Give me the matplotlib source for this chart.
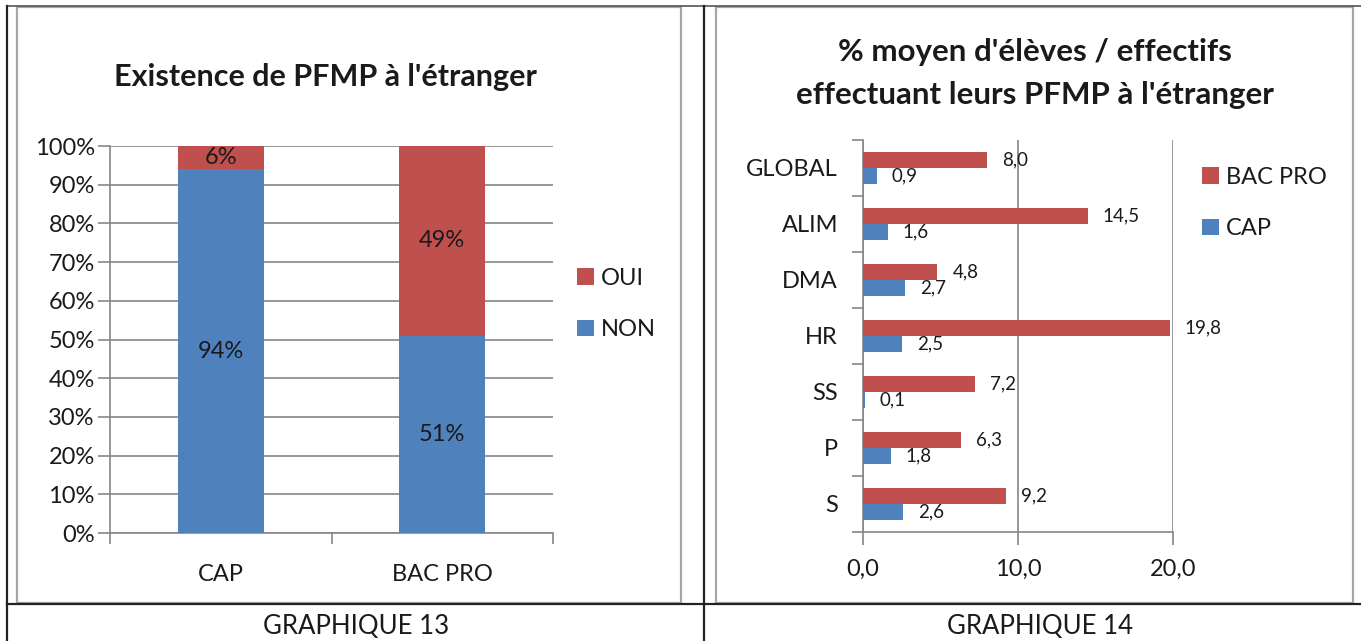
import matplotlib
matplotlib.use("Agg")
import matplotlib.pyplot as plt
from matplotlib.lines import Line2D
from matplotlib.patches import Rectangle
import numpy as np

plt.rcParams['font.family'] = ['Lato', 'DejaVu Sans']

# ---- data ----
g13_categories = ["CAP", "BAC PRO"]
g13_non = [0.94, 0.51]
g13_oui = [0.06, 0.49]
g13_non_labels = ["94%", "51%"]
g13_oui_labels = ["6%", "49%"]
g13_yticks = [i / 10 for i in range(11)]

g14_categories = ["GLOBAL", "ALIM", "DMA", "HR", "SS", "P", "S"]
g14_bacpro = [8.0, 14.5, 4.8, 19.8, 7.2, 6.3, 9.2]
g14_cap = [0.9, 1.6, 2.7, 2.5, 0.1, 1.8, 2.6]
g14_xticks = [0, 10, 20]

RED = "#C0504D"
BLUE = "#4F81BD"
GRID = "#868686"
TXT = "#1a1a1a"

W, H = 1361, 641
fig = plt.figure(figsize=(W / 100, H / 100), dpi=100)


def fx(x):
    return x / W


def fy(y):
    return 1 - y / H


def add_ax(x0, y0, x1, y1):
    return fig.add_axes([fx(x0), fy(y1), fx(x1) - fx(x0), fy(y0) - fy(y1)])


# ---- table / panel borders ----
def fline(x0, y0, x1, y1, color, lw):
    fig.add_artist(Line2D([fx(x0), fx(x1)], [fy(y0), fy(y1)], color=color,
                          lw=lw, transform=fig.transFigure))

for (x0, x1) in [(17, 681), (716, 1353)]:
    fig.add_artist(Rectangle((fx(x0), fy(603)), fx(x1) - fx(x0), fy(7) - fy(603),
                             fill=False, ec="#A6A6A6", lw=1.6, transform=fig.transFigure))
fline(7, 6, 1361, 6, "#555555", 1.2)
fline(7, 6, 7, 641, "#222222", 1.6)
fline(704, 6, 704, 641, "#222222", 1.6)
fline(7, 604, 1361, 604, "#222222", 1.6)

fig.text(fx(356), fy(627), "GRAPHIQUE 13", ha="center", va="center", fontsize=18.5, color=TXT)
fig.text(fx(1040), fy(627), "GRAPHIQUE 14", ha="center", va="center", fontsize=18.5, color=TXT)

# ---- GRAPHIQUE 13 ----
ax1 = add_ax(110, 146, 553, 533)
xpos = np.arange(len(g13_categories)) + 0.5
bw = 0.39
ax1.bar(xpos, g13_non, bw, color=BLUE, label="NON", zorder=3)
ax1.bar(xpos, g13_oui, bw, bottom=g13_non, color=RED, label="OUI", zorder=3)
for x, n, o, nl, ol in zip(xpos, g13_non, g13_oui, g13_non_labels, g13_oui_labels):
    ax1.text(x, n / 2, nl, ha="center", va="center", fontsize=17, color=TXT, zorder=4)
    ax1.text(x, n + o / 2, ol, ha="center", va="center", fontsize=17, color=TXT, zorder=4)
ax1.set_xlim(0, len(g13_categories))
ax1.set_ylim(0, 1)
ax1.set_yticks(g13_yticks)
ax1.set_yticklabels([f"{int(round(t * 100))}%" for t in g13_yticks], fontsize=17, color=TXT)
ax1.set_xticks(xpos)
ax1.set_xticklabels(g13_categories, fontsize=17, color=TXT)
ax1.set_xticks(np.arange(len(g13_categories) + 1), minor=True)
ax1.tick_params(axis="x", which="major", length=0, pad=22)
ax1.tick_params(axis="x", which="minor", length=8, color=GRID, width=1.2, direction="out")
ax1.tick_params(axis="y", length=9, color=GRID, width=1.2, pad=2)
ax1.yaxis.grid(True, color=GRID, lw=1.2, zorder=0)
for s in ["top", "right"]:
    ax1.spines[s].set_visible(False)
for s in ["left", "bottom"]:
    ax1.spines[s].set_color(GRID)
    ax1.spines[s].set_linewidth(1.2)
ax1.set_axisbelow(True)
fig.text(fx(325), fy(77), "Existence de PFMP à l'étranger", ha="center", va="center",
         fontsize=22, fontweight="bold", color=TXT)
h, l = ax1.get_legend_handles_labels()
fig.legend(h[::-1], l[::-1], loc="center left", bbox_to_anchor=(fx(556), fy(304)),
           frameon=False, fontsize=17, handlelength=0.7, handleheight=0.7,
           handletextpad=0.3, labelspacing=1.3, labelcolor=TXT)

# ---- GRAPHIQUE 14 ----
ax2 = add_ax(863, 140, 1173, 532)
ypos = np.arange(len(g14_categories)) + 0.5
bh = 0.286
ax2.barh(ypos - bh / 2, g14_bacpro, bh, color=RED, label="BAC PRO", zorder=3)
ax2.barh(ypos + bh / 2, g14_cap, bh, color=BLUE, label="CAP", zorder=3)
for y, v in zip(ypos - bh / 2, g14_bacpro):
    ax2.annotate(f"{v:.1f}".replace(".", ","), (v, y), xytext=(15, 0), textcoords="offset pixels",
                 ha="left", va="center", fontsize=13.5, color=TXT, annotation_clip=False)
for y, v in zip(ypos + bh / 2, g14_cap):
    ax2.annotate(f"{v:.1f}".replace(".", ","), (v, y), xytext=(15, 0), textcoords="offset pixels",
                 ha="left", va="center", fontsize=13.5, color=TXT, annotation_clip=False)
ax2.set_xlim(0, 20)
ax2.set_ylim(len(g14_categories), 0)
ax2.set_xticks(g14_xticks)
ax2.set_xticklabels([f"{t:.1f}".replace(".", ",") for t in g14_xticks], fontsize=17, color=TXT)
ax2.set_yticks(ypos)
ax2.set_yticklabels(g14_categories, fontsize=17, color=TXT)
ax2.set_yticks(np.arange(len(g14_categories) + 1), minor=True)
ax2.tick_params(axis="y", which="major", length=0, pad=18)
ax2.tick_params(axis="y", which="minor", length=8, color=GRID, width=1.2, direction="out")
ax2.tick_params(axis="x", length=9, color=GRID, width=1.2, pad=10)
ax2.xaxis.grid(True, color=GRID, lw=1.2, zorder=0)
for s in ["top", "right"]:
    ax2.spines[s].set_visible(False)
for s in ["left", "bottom"]:
    ax2.spines[s].set_color(GRID)
    ax2.spines[s].set_linewidth(1.2)
ax2.set_axisbelow(True)
fig.text(fx(1035), fy(52), "% moyen d'élèves / effectifs", ha="center", va="center",
         fontsize=22.5, fontweight="bold", color=TXT)
fig.text(fx(1035), fy(95), "effectuant leurs PFMP à l'étranger", ha="center", va="center",
         fontsize=22.5, fontweight="bold", color=TXT)
h, l = ax2.get_legend_handles_labels()
fig.legend(h, l, loc="center left", bbox_to_anchor=(fx(1181), fy(203)),
           frameon=False, fontsize=17, handlelength=0.7, handleheight=0.7,
           handletextpad=0.3, labelspacing=1.3, labelcolor=TXT)

fig.savefig("out.png", dpi=100)
